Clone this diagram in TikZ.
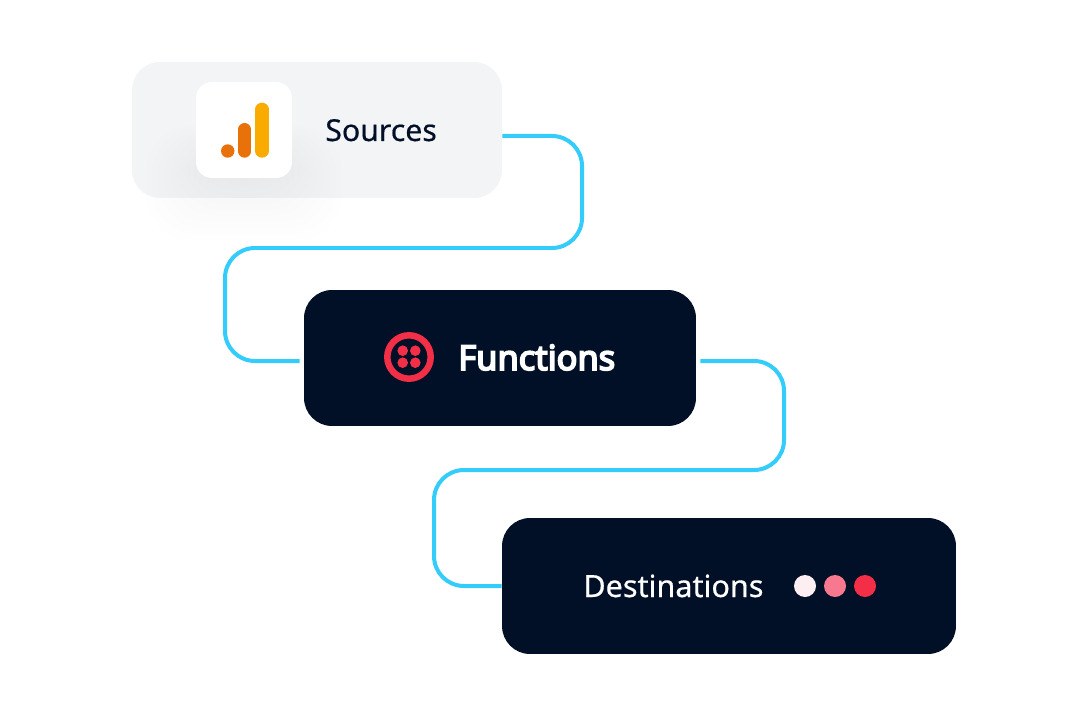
\documentclass[tikz,border=0pt]{standalone}
\usepackage{fontspec}
\setmainfont{Noto Sans}
\newfontfamily\mediumface[FakeBold=0.5]{Noto Sans}
\newfontfamily\heavyface[FakeBold=5]{Noto Sans}
\definecolor{inkblue}{HTML}{010F27}
\definecolor{wireblue}{HTML}{33CCFB}
\definecolor{cardgrey}{HTML}{F3F4F6}
\definecolor{redmain}{HTML}{F22F46}
\definecolor{redmid}{HTML}{F8798F}
\definecolor{redpale}{HTML}{FDEEF2}
\definecolor{barorange}{HTML}{E8710A}
\definecolor{baryellow}{HTML}{F9AB00}
\tikzset{
  card/.style={rounded corners=0.56cm, minimum height=2.72cm, inner sep=0pt},
  wire/.style={draw=wireblue, line width=0.08cm, rounded corners=0.6cm},
  label/.style={inner sep=0pt, anchor=base west},
}
\begin{document}
\begin{tikzpicture}[x=0.02cm,y=0.02cm]
\useasboundingbox (0,0) rectangle (1088,-716);
\fill [white] (0,0) rectangle (1088,-716);
\node [card, fill=cardgrey, minimum width=7.4cm] (sources) at (317,-130) {};
% soft shadow under the icon
\foreach \g in {0,6,...,60}
  \fill [black, opacity=0.0022, rounded corners=0.9cm] (206-\g,-150+0.4*\g) rectangle (282+\g,-180-\g);
\node [fill=white, rounded corners=0.32cm, minimum size=1.92cm, inner sep=0pt] (icon) at (244,-130) {};
\fill [barorange] (227.7,-151) circle [radius=6.7];
\draw [barorange, line width=0.252cm, line cap=round] (244.6,-129.3) -- (244.6,-151.4);
\draw [baryellow, line width=0.264cm, line cap=round] (262,-109.3) -- (262,-151.1);
\node [label, text=inkblue, font=\fontsize{17.2}{19}\mediumface] (sourcestext) at (325,-141) {Sources};
\node [card, fill=inkblue, minimum width=7.84cm] (functions) at (500,-358) {};
\draw [redmain, line width=0.13cm] (409,-357) circle [radius=21.7];
\foreach \x in {402.7,415.3}
  \foreach \y in {-350.7,-362.7}
    \fill [redmain] (\x,\y) circle [radius=5.3];
\node [label, text=white, font=\fontsize{19.6}{22}\heavyface] (functionstext) at (458,-370) {Functions};
\node [card, fill=inkblue, minimum width=9.08cm] (destinations) at (729,-586) {};
\node [label, text=white, font=\fontsize{17.4}{19}\mediumface] (destinationstext) at (583,-597) {Destinations};
\fill [redpale] (805,-586) circle [radius=11];
\fill [redmid] (835,-586) circle [radius=11];
\fill [redmain] (865,-586) circle [radius=11];
\draw [wire] ([yshift=-0.12cm]sources.east) -- (582,-136) -- (582,-248) -- (225,-248) -- (225,-361) -- ([xshift=-0.08cm,yshift=-0.06cm]functions.west);
\draw [wire] ([xshift=0.08cm,yshift=-0.06cm]functions.east) -- (784,-361) -- (784,-470) -- (434,-470) -- (434,-586) -- (destinations.west);
\end{tikzpicture}
\end{document}
